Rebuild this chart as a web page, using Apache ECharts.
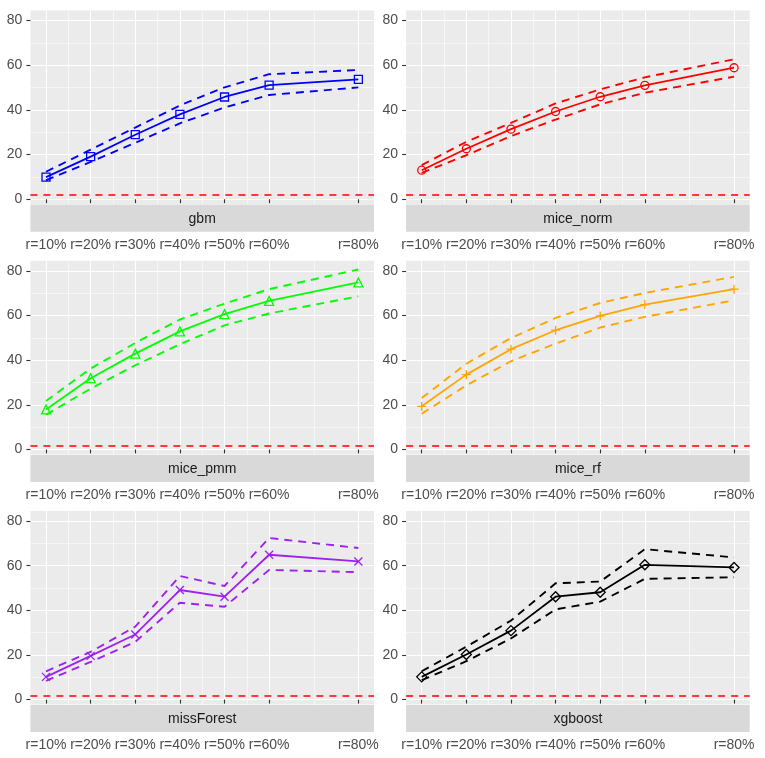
<!DOCTYPE html>
<html><head><meta charset="utf-8">
<script src="https://cdn.jsdelivr.net/npm/echarts@6/dist/echarts.min.js"></script>
<style>html,body{margin:0;padding:0;background:#fff}#c{width:765px;height:758px}</style>
</head><body><div id="c"></div>
<script>
// ---- data ----
const rates = [10, 20, 30, 40, 50, 60, 80];
const xTickLabels = ['r=10%', 'r=20%', 'r=30%', 'r=40%', 'r=50%', 'r=60%', 'r=80%'];
const yTicks = [0, 20, 40, 60, 80];
const methods = ['gbm', 'mice_norm', 'mice_pmm', 'mice_rf', 'missForest', 'xgboost'];
const threshold = 1.8;

const gbmMean  = [9.9, 19.1, 28.9, 38.0, 45.8, 51.1, 53.7];
const gbmUpper = [12.3, 22.2, 32.1, 42.0, 50.1, 56.0, 57.9];
const gbmLower = [8.5, 16.7, 25.3, 34.0, 41.1, 46.7, 50.1];

const normMean  = [13.0, 22.6, 31.4, 39.3, 45.9, 51.0, 58.9];
const normUpper = [15.3, 25.7, 34.2, 42.9, 49.2, 54.6, 62.7];
const normLower = [11.8, 19.7, 28.3, 35.7, 42.5, 47.7, 54.9];

const pmmMean  = [17.9, 31.9, 42.9, 52.9, 60.6, 66.5, 74.8];
const pmmUpper = [21.7, 36.2, 47.7, 58.2, 65.3, 71.8, 80.6];
const pmmLower = [15.6, 27.2, 37.7, 47.1, 55.6, 60.9, 68.6];

const rfMean  = [19.3, 33.5, 44.9, 53.4, 59.8, 64.9, 71.8];
const rfUpper = [23.0, 38.4, 49.9, 58.9, 65.6, 70.1, 77.3];
const rfLower = [16.0, 28.7, 39.5, 47.4, 54.6, 59.4, 66.8];

const mfMean  = [10.2, 19.6, 29.2, 49.1, 46.1, 64.9, 61.9];
const mfUpper = [12.7, 21.4, 32.7, 55.4, 50.9, 72.4, 67.9];
const mfLower = [8.4, 16.9, 25.9, 43.4, 41.6, 58.1, 57.1];

const xgbMean  = [10.2, 20.2, 30.9, 46.1, 48.1, 60.4, 59.2];
const xgbUpper = [12.7, 23.7, 35.4, 52.1, 52.9, 67.4, 63.7];
const xgbLower = [8.7, 17.2, 27.4, 40.4, 43.9, 54.1, 54.8];

const means  = [gbmMean, normMean, pmmMean, rfMean, mfMean, xgbMean];
const uppers = [gbmUpper, normUpper, pmmUpper, rfUpper, mfUpper, xgbUpper];
const lowers = [gbmLower, normLower, pmmLower, rfLower, mfLower, xgbLower];

// ---- style ----
const colors = ['#0000FF', '#FF0000', '#00FF00', '#FFA500', '#A020F0', '#000000'];
const symbols = [
  'rect', 'circle', 'triangle',
  'path://M5,0 L5,10 M0,5 L10,5',
  'path://M0,0 L10,10 M0,10 L10,0',
  'diamond'
];
const symbolSizes = [8, 8, 9, 9, 8, 10];
const FONT = '"Liberation Sans", Arial, Helvetica, sans-serif';
const panelLeft = [30.4, 406.1];
const panelTop = [10.5, 260.7, 510.9];
const panelW = 343.6, panelH = 193.5, stripH = 27.2, stripGap = 0.5;
const xMin = 6.5, xMax = 83.5, yMin = -2.14, yMax = 84.54;

const xMinor = rates.slice(1).map((r, i) => (r + rates[i]) / 2);
const yMinor = yTicks.slice(1).map((t, i) => (t + yTicks[i]) / 2);

const grids = [], xAxes = [], yAxes = [], series = [], graphics = [];
methods.forEach((m, i) => {
  const col = i % 2, row = Math.floor(i / 2);
  const L = panelLeft[col], T = panelTop[row];
  grids.push({left: L, top: T, width: panelW, height: panelH, show: true,
    backgroundColor: '#EBEBEB', borderWidth: 0, containLabel: false});
  xAxes.push({
    gridIndex: i, type: 'value', min: xMin, max: xMax, position: 'bottom',
    offset: stripH + stripGap,
    axisLine: {show: false},
    axisTick: {show: true, length: 4, customValues: rates, lineStyle: {color: '#333333', width: 1.1}},
    axisLabel: {customValues: rates, margin: 6, fontSize: 14, color: '#4D4D4D', fontFamily: FONT,
      formatter: v => { const k = rates.indexOf(v); return k >= 0 ? xTickLabels[k] : ''; }},
    splitLine: {show: true, lineStyle: {color: '#FFFFFF', width: 1.1}}
  });
  xAxes.push({
    gridIndex: i, type: 'value', min: xMin, max: xMax, position: 'top',
    axisLine: {show: false},
    axisTick: {show: false, customValues: xMinor},
    axisLabel: {show: false, customValues: xMinor},
    splitLine: {show: true, lineStyle: {color: '#FFFFFF', width: 0.55}}
  });
  yAxes.push({
    gridIndex: i, type: 'value', min: yMin, max: yMax, position: 'left',
    axisLine: {show: false},
    axisTick: {show: true, length: 4, customValues: yTicks, lineStyle: {color: '#333333', width: 1.1}},
    axisLabel: {customValues: yTicks, margin: 8, fontSize: 14, color: '#4D4D4D', fontFamily: FONT},
    splitLine: {show: true, lineStyle: {color: '#FFFFFF', width: 1.1}}
  });
  yAxes.push({
    gridIndex: i, type: 'value', min: yMin, max: yMax, position: 'right',
    axisLine: {show: false},
    axisTick: {show: false, customValues: yMinor},
    axisLabel: {show: false, customValues: yMinor},
    splitLine: {show: true, lineStyle: {color: '#FFFFFF', width: 0.55}}
  });
  const c = colors[i];
  const pts = arr => rates.map((r, k) => [r, arr[k]]);
  ['upper', 'lower'].forEach((nm, j) => {
    series.push({
      type: 'line', name: m + '_' + nm, xAxisIndex: 2 * i, yAxisIndex: 2 * i,
      data: pts(j === 0 ? uppers[i] : lowers[i]), showSymbol: false, symbol: 'none',
      lineStyle: {color: c, width: 1.9, type: [8, 6]}, silent: true, animation: false, z: 3
    });
  });
  series.push({
    type: 'line', name: m, xAxisIndex: 2 * i, yAxisIndex: 2 * i,
    data: pts(means[i]), symbol: symbols[i], symbolSize: symbolSizes[i],
    itemStyle: {color: 'none', borderColor: c, borderWidth: 1.3},
    lineStyle: {color: c, width: 1.8}, silent: true, animation: false, z: 4,
    markLine: {
      silent: true, symbol: 'none', animation: false,
      label: {show: false},
      lineStyle: {color: '#FF0000', width: 1.6, type: [7, 6]},
      data: [{yAxis: threshold}]
    }
  });
  graphics.push({
    type: 'rect', shape: {x: L, y: T + panelH + stripGap, width: panelW, height: stripH},
    style: {fill: '#D9D9D9'}, silent: true
  });
  graphics.push({
    type: 'text', x: L + panelW / 2, y: T + panelH + stripGap + stripH / 2 + 1,
    style: {text: m, fill: '#1A1A1A', font: '14px ' + FONT, align: 'center', verticalAlign: 'middle'},
    silent: true
  });
});

const chart = echarts.init(document.getElementById('c'), null, {renderer: 'canvas'});
chart.setOption({
  animation: false,
  backgroundColor: '#FFFFFF',
  grid: grids, xAxis: xAxes, yAxis: yAxes, series: series,
  graphic: {elements: graphics}
});
</script></body></html>
